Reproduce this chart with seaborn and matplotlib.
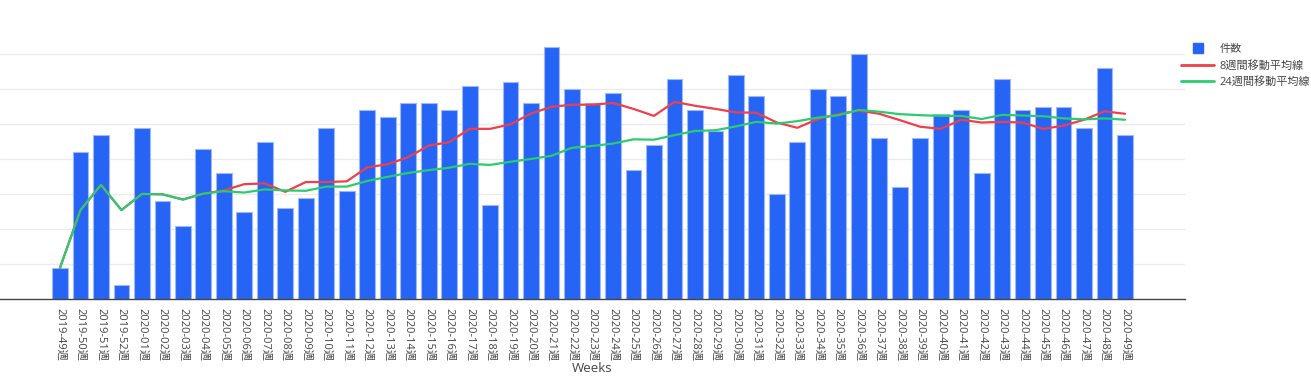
import numpy as np
import pandas as pd
import matplotlib
matplotlib.use("Agg")
import matplotlib.pyplot as plt
import seaborn as sns
from matplotlib.lines import Line2D

weeks = [
    "2019-49週", "2019-50週", "2019-51週", "2019-52週",
    "2020-01週", "2020-02週", "2020-03週", "2020-04週", "2020-05週",
    "2020-06週", "2020-07週", "2020-08週", "2020-09週", "2020-10週",
    "2020-11週", "2020-12週", "2020-13週", "2020-14週", "2020-15週",
    "2020-16週", "2020-17週", "2020-18週", "2020-19週", "2020-20週",
    "2020-21週", "2020-22週", "2020-23週", "2020-24週", "2020-25週",
    "2020-26週", "2020-27週", "2020-28週", "2020-29週", "2020-30週",
    "2020-31週", "2020-32週", "2020-33週", "2020-34週", "2020-35週",
    "2020-36週", "2020-37週", "2020-38週", "2020-39週", "2020-40週",
    "2020-41週", "2020-42週", "2020-43週", "2020-44週", "2020-45週",
    "2020-46週", "2020-47週", "2020-48週", "2020-49週",
]

counts = [9, 42, 47, 4,
          49, 28, 21, 43, 36, 25, 45, 26, 29,
          49, 31, 54, 52, 56, 56, 54,
          61, 27, 62, 56, 72, 60, 56, 59,
          37, 44, 63, 54, 48, 64, 58, 30,
          45, 60, 58, 70, 46, 32, 46, 53,
          54, 36, 63, 54, 55, 55, 49, 66, 47]

ma8 = [9, 25.5, 32.7, 25.5, 30.1, 30.0, 28.5, 30.2, 31.1, 32.9,
       33.1, 30.7, 33.5, 33.5, 33.7, 37.7, 38.6, 40.6, 43.9, 44.9,
       48.7, 48.7, 50.0, 53.1, 55.0, 55.6, 55.6, 56.1, 54.4, 52.4,
       56.4, 55.3, 54.4, 53.4, 53.3, 50.5, 49.0, 51.5, 52.9, 53.9,
       53.0, 51.2, 49.3, 48.7, 51.3, 50.5, 50.7, 50.5, 48.7, 49.6,
       51.3, 53.7, 53.0]

ma24 = [9, 25.5, 32.7, 25.5, 30.1, 30.0, 28.5, 30.2, 30.9, 30.5,
        31.4, 31.1, 31.0, 32.2, 32.2, 33.8, 35.0, 36.1, 36.9, 37.6,
        38.7, 38.4, 39.3, 40.1, 41.0, 43.3, 43.8, 44.5, 45.7, 45.6,
        46.9, 48.1, 48.3, 49.4, 50.7, 50.2, 50.9, 51.9, 52.6, 54.1,
        53.6, 52.9, 52.6, 52.4, 52.4, 51.5, 52.7, 52.5, 52.3, 51.7,
        51.4, 51.7, 51.3]

legend_labels = ["件数", "8週間移動平均線", "24週間移動平均線"]
x_title = "Weeks"

BLUE = "#2664F5"
EDGE = "#9DB9F8"
RED = "#EF3F4A"
GREEN = "#29CC6E"
TEXT = "#444444"

sns.set_theme(style="white")
plt.rcParams["font.family"] = ["Open Sans", "Noto Sans CJK JP", "DejaVu Sans"]

df = pd.DataFrame({"week": weeks, "count": counts, "ma8": ma8, "ma24": ma24})
df["pos"] = np.arange(len(df))

fig = plt.figure(figsize=(13.11, 3.77), dpi=100)
ax = fig.add_axes([0.0, 0.2061, 0.9039, 0.7056])

sns.barplot(data=df, x="pos", y="count", native_scale=True, color=BLUE,
            saturation=1, width=0.77, edgecolor=EDGE, linewidth=0.8,
            errorbar=None, ax=ax, zorder=2)
sns.lineplot(data=df, x="pos", y="ma8", color=RED, linewidth=1.6,
             ax=ax, zorder=3)
sns.lineplot(data=df, x="pos", y="ma24", color=GREEN, linewidth=1.6,
             ax=ax, zorder=4)

ax.set_xlim(-2.93, len(df) - 1 + 2.93)
ax.set_ylim(0, 76)
ax.set_yticks(np.arange(10, 80, 10))
ax.set_yticklabels([])
ax.tick_params(axis="y", length=0)
ax.yaxis.grid(True, color="#ebebeb", linewidth=1)
ax.xaxis.grid(False)
ax.set_axisbelow(True)
ax.set_ylabel("")

ax.set_xticks(df["pos"])
ax.set_xticklabels(df["week"], rotation=-90, fontsize=8, color=TEXT)
ax.tick_params(axis="x", length=0, pad=6)
ax.set_xlabel(x_title, fontsize=9.5, color=TEXT, labelpad=1)

for s in ["left", "top", "right"]:
    ax.spines[s].set_visible(False)
ax.spines["bottom"].set_color(TEXT)
ax.spines["bottom"].set_linewidth(1)

handles = [
    Line2D([], [], marker="s", linestyle="none", markersize=7, color=BLUE),
    Line2D([], [], color=RED, linewidth=2),
    Line2D([], [], color=GREEN, linewidth=2),
]
fig.legend(handles, legend_labels, loc="upper left",
           bbox_to_anchor=(1181 / 1311, 1 - 44 / 377), frameon=False,
           fontsize=8, labelcolor=TEXT, handlelength=3.0, handletextpad=0.45,
           labelspacing=0.5, borderpad=0, borderaxespad=0)

fig.savefig("out.png", dpi=100)
